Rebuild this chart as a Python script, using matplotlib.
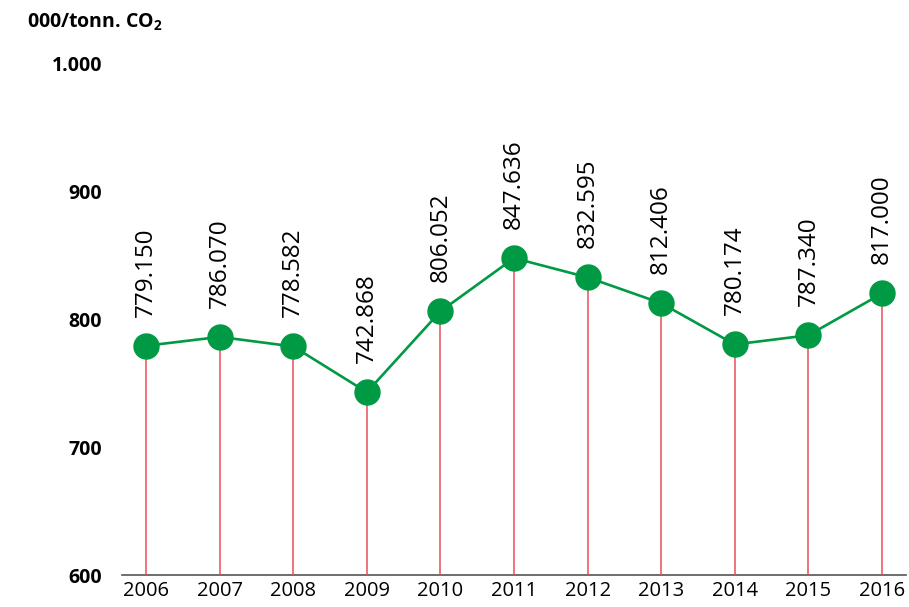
import matplotlib as mpl
mpl.use('Agg')
import matplotlib.pyplot as plt

plt.rcParams['font.family'] = ['Open Sans', 'DejaVu Sans']
plt.rcParams['mathtext.fontset'] = 'custom'
plt.rcParams['mathtext.bf'] = 'Open Sans:bold'
plt.rcParams['mathtext.rm'] = 'Open Sans:bold'

years = ['2006', '2007', '2008', '2009', '2010', '2011',
         '2012', '2013', '2014', '2015', '2016']
values = [779.150, 786.070, 778.582, 742.868, 806.052, 847.636,
          832.595, 812.406, 780.174, 787.340, 820.0]
labels = ['779.150', '786.070', '778.582', '742.868', '806.052', '847.636',
          '832.595', '812.406', '780.174', '787.340', '817.000']
yticks = [600, 700, 800, 900, 1000]
ytick_labels = ['600', '700', '800', '900', '1.000']

green = '#009a44'
red = '#e8505b'

fig = plt.figure(figsize=(9.09, 6.07), dpi=100)
ax = fig.add_axes([0.134, 0.0527, 0.863, 0.8433])

x = list(range(len(years)))

# stems from the axis up to each point
ax.vlines(x, 600, values, color=red, linewidth=1.1, zorder=1)
ax.plot(x, values, color=green, linewidth=1.9, marker='o',
        markersize=18, markerfacecolor=green, markeredgecolor=green, zorder=3)

for xi, v, lab in zip(x, values, labels):
    ax.annotate(lab, (xi, v), xytext=(0, 21), textcoords='offset points',
                rotation=90, ha='center', va='bottom', fontsize=17.5)

ax.set_xlim(-0.33, 10.33)
ax.set_ylim(600, 1000)
ax.set_xticks(x)
ax.set_xticklabels(years, fontsize=14.5)
ax.set_yticks(yticks)
ax.set_yticklabels(ytick_labels, fontsize=14, fontweight='bold')
ax.tick_params(axis='both', length=0)
ax.tick_params(axis='y', pad=14)
ax.tick_params(axis='x', pad=4)

for s in ['top', 'right', 'left']:
    ax.spines[s].set_visible(False)
ax.spines['bottom'].set_color('#555555')
ax.spines['bottom'].set_linewidth(1.2)
ax.spines['bottom'].set_zorder(0)

fig.text(0.03, 0.963, '000/tonn. CO$_{2}$', fontsize=14, fontweight='bold',
         ha='left', va='center')

fig.savefig('out.png', dpi=100)
